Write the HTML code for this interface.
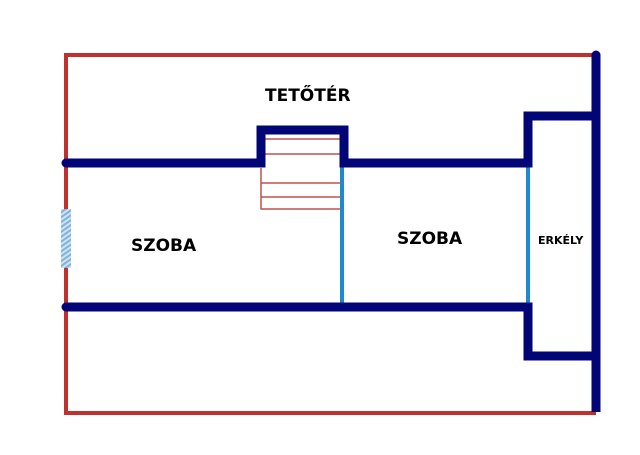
<!DOCTYPE html>
<html><head><meta charset="utf-8"><style>
html,body{margin:0;padding:0;background:#fff;width:640px;height:455px;overflow:hidden}
svg{display:block}
text{font-family:"DejaVu Sans","Liberation Sans",sans-serif;font-weight:bold;fill:#000}
</style></head><body>
<svg width="640" height="455" viewBox="0 0 640 455">
<defs>
<pattern id="h" width="4" height="4" patternUnits="userSpaceOnUse" patternTransform="rotate(-35)">
<rect width="4" height="4" fill="#cfe3f3"/><rect width="4" height="2" fill="#7fb3dc"/>
</pattern>
</defs>
<!-- red outer border -->
<polyline points="596,55 66,55 66,413 596,413" fill="none" stroke="#c0302f" stroke-width="4"/>
<!-- window -->
<rect x="61" y="209" width="10" height="59" fill="url(#h)"/>
<!-- stairs -->
<g stroke="#c0504d" stroke-width="1.5" fill="none">
<line x1="265" y1="139" x2="340" y2="139"/>
<line x1="265" y1="154" x2="340" y2="154"/>
<line x1="261" y1="183" x2="342" y2="183"/>
<line x1="261" y1="197" x2="342" y2="197"/>
<polyline points="261,168 261,209 342,209"/>
</g>
<!-- light blue partitions -->
<line x1="342" y1="166" x2="342" y2="304" stroke="#1c8acb" stroke-width="4"/>
<line x1="528" y1="166" x2="528" y2="304" stroke="#1c8acb" stroke-width="4"/>
<!-- navy walls -->
<g stroke="#020575" stroke-width="9" fill="none">
<polyline points="66,163 261,163 261,130 344,130 344,163 528,163 528,116 596,116" stroke-linejoin="miter"/>
<polyline points="66,307 528,307 528,356 596,356"/>
<line x1="596" y1="55" x2="596" y2="412"/>
</g>
<circle cx="66" cy="163" r="4.5" fill="#020575"/>
<circle cx="66" cy="307" r="4.5" fill="#020575"/>
<circle cx="596" cy="55" r="4.5" fill="#020575"/>
<text x="265" y="101" font-size="17">TETŐTÉR</text>
<text x="131" y="251" font-size="17">SZOBA</text>
<text x="397" y="244" font-size="17">SZOBA</text>
<text x="538" y="244" font-size="11">ERKÉLY</text>
</svg>
</body></html>
